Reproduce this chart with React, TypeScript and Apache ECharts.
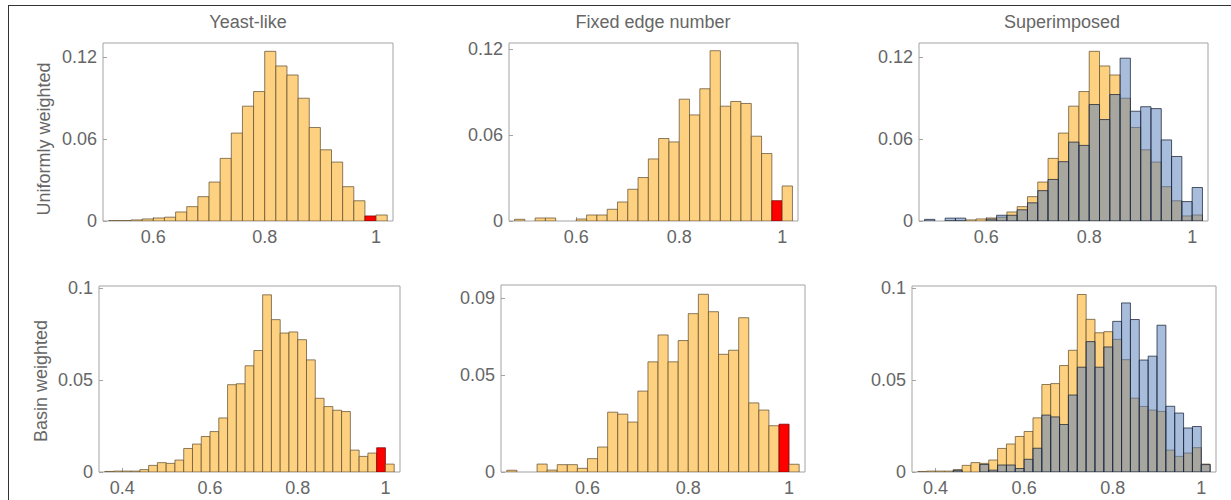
import React, { useEffect, useRef } from "react";
import * as echarts from "echarts";

// ---- Data (bin starts, width 0.02) ----
const BIN_WIDTH = 0.02;
const HIGHLIGHT_BIN = 0.98;
const BINS = [
  0.36, 0.38, 0.4, 0.42, 0.44, 0.46, 0.48, 0.5, 0.52, 0.54, 0.56, 0.58, 0.6, 0.62, 0.64, 0.66, 0.68,
  0.7, 0.72, 0.74, 0.76, 0.78, 0.8, 0.82, 0.84, 0.86, 0.88, 0.9, 0.92, 0.94, 0.96, 0.98, 1.0,
];

const yeastUniform = [
  null, null, null, null, null, null, null, null,
  0.0003, 0.0003, 0.0008, 0.0015, 0.0022, 0.0028, 0.0066, 0.0105, 0.0178, 0.0285, 0.0458, 0.0643,
  0.084, 0.0947, 0.1241, 0.1134, 0.1068, 0.0898, 0.0684, 0.0521, 0.0431, 0.0251, 0.0148, 0.0037, 0.0044,
];
const fixedUniform = [
  null, null, null, null, null, null,
  0.0012, 0, 0.0021, 0.0021, 0, 0, 0.0014, 0.0042, 0.0042, 0.0082, 0.0133, 0.0222, 0.0304, 0.0434,
  0.0577, 0.0553, 0.0852, 0.0742, 0.0925, 0.1191, 0.0803, 0.0836, 0.0822, 0.0593, 0.0472, 0.0142, 0.0245,
];
const yeastBasin = [
  0.0003, 0.0005, 0.0005, 0.0005, 0.0013, 0.0036, 0.0051, 0.0047, 0.0065, 0.0128, 0.0152, 0.0193,
  0.022, 0.0294, 0.0475, 0.048, 0.0578, 0.0661, 0.0964, 0.0829, 0.0756, 0.0762, 0.072, 0.061, 0.0401,
  0.0356, 0.0336, 0.0329, 0.0119, 0.0085, 0.0103, 0.0132, 0.0043,
];
const fixedBasin = [
  null, null, null, null,
  0.0009, 0, 0, 0.0041, 0.001, 0.0038, 0.0038, 0.0019, 0.0069, 0.0129, 0.0309, 0.0299, 0.0258, 0.0418,
  0.0569, 0.0708, 0.0569, 0.0679, 0.0818, 0.0918, 0.0828, 0.0608, 0.0629, 0.0797, 0.0357, 0.032,
  0.0239, 0.0247, 0.004,
];

const COLUMN_TITLES = ["Yeast-like", "Fixed edge number", "Superimposed"];
const ROW_TITLES = ["Uniformly weighted", "Basin weighted"];

const X_TICKS_A = [0.6, 0.8, 1];
const X_TICKS_B = [0.4, 0.6, 0.8, 1];
const Y_TICKS_UNIFORM = [0, 0.06, 0.12];
const Y_TICKS_BASIN = [0, 0.05, 0.1];
const Y_TICKS_FIXED_BASIN = [0, 0.05, 0.09];

// ---- Styles ----
const FONT = "'Liberation Sans', Arial, sans-serif";
const TEXT_COLOR = "#666666";
const FRAME_COLOR = "#a3a3a3";
const YELLOW = "#fdd17f";
const YELLOW_EDGE = "rgba(95,78,48,0.72)";
const RED = "#ff0000";
const RED_EDGE = "rgba(110,0,0,0.7)";
const BLUE = "rgba(91,128,187,0.53)";
const BLUE_EDGE = "rgba(25,35,55,0.75)";

function pairs(values: (number | null)[]) {
  const out: number[][] = [];
  BINS.forEach((b, i) => {
    const v = values[i];
    if (v != null && v > 0) out.push([b, v]);
  });
  return out;
}

type Layer = { data: (number | null)[]; fill: string; stroke: string; highlight: boolean };
type Panel = {
  grid: { left: number; top: number; width: number; height: number };
  xMin: number; xMax: number; yMax: number;
  xTicks: number[]; yTicks: number[];
  layers: Layer[];
};

const PANELS: Panel[] = [
  { grid: { left: 103, top: 43, width: 290, height: 178 }, xMin: 0.5096, xMax: 1.0304, yMax: 0.1302,
    xTicks: X_TICKS_A, yTicks: Y_TICKS_UNIFORM,
    layers: [{ data: yeastUniform, fill: YELLOW, stroke: YELLOW_EDGE, highlight: true }] },
  { grid: { left: 509, top: 43, width: 289, height: 178 }, xMin: 0.4692, xMax: 1.0308, yMax: 0.1245,
    xTicks: X_TICKS_A, yTicks: Y_TICKS_UNIFORM,
    layers: [{ data: fixedUniform, fill: YELLOW, stroke: YELLOW_EDGE, highlight: true }] },
  { grid: { left: 919, top: 43, width: 289, height: 178 }, xMin: 0.4692, xMax: 1.0308, yMax: 0.1302,
    xTicks: X_TICKS_A, yTicks: Y_TICKS_UNIFORM,
    layers: [
      { data: yeastUniform, fill: YELLOW, stroke: YELLOW_EDGE, highlight: false },
      { data: fixedUniform, fill: BLUE, stroke: BLUE_EDGE, highlight: false },
    ] },
  { grid: { left: 99, top: 286, width: 301, height: 186 }, xMin: 0.3468, xMax: 1.0332, yMax: 0.1012,
    xTicks: X_TICKS_B, yTicks: Y_TICKS_BASIN,
    layers: [{ data: yeastBasin, fill: YELLOW, stroke: YELLOW_EDGE, highlight: true }] },
  { grid: { left: 501, top: 285, width: 304, height: 187 }, xMin: 0.4284, xMax: 1.0316, yMax: 0.0966,
    xTicks: X_TICKS_A, yTicks: Y_TICKS_FIXED_BASIN,
    layers: [{ data: fixedBasin, fill: YELLOW, stroke: YELLOW_EDGE, highlight: true }] },
  { grid: { left: 912, top: 286, width: 304, height: 186 }, xMin: 0.3468, xMax: 1.0332, yMax: 0.101,
    xTicks: X_TICKS_B, yTicks: Y_TICKS_BASIN,
    layers: [
      { data: yeastBasin, fill: YELLOW, stroke: YELLOW_EDGE, highlight: false },
      { data: fixedBasin, fill: BLUE, stroke: BLUE_EDGE, highlight: false },
    ] },
];

const fmt = (v: number) => (v === 0 ? "0" : String(parseFloat(Number(v).toFixed(4))));

function buildOption() {
  const grids: any[] = [];
  const xAxes: any[] = [];
  const yAxes: any[] = [];
  const series: any[] = [];
  PANELS.forEach((p, i) => {
    grids.push({ ...p.grid, show: true, borderColor: FRAME_COLOR, borderWidth: 1, backgroundColor: "transparent" });
    xAxes.push({
      type: "value", gridIndex: i, min: p.xMin, max: p.xMax,
      axisLine: { show: false }, splitLine: { show: false },
      axisTick: { show: true, inside: true, length: 4, customValues: p.xTicks, lineStyle: { color: FRAME_COLOR } },
      axisLabel: { customValues: p.xTicks, formatter: fmt, color: TEXT_COLOR, fontSize: 18, fontFamily: FONT, margin: 7 },
    });
    yAxes.push({
      type: "value", gridIndex: i, min: 0, max: p.yMax,
      axisLine: { show: false }, splitLine: { show: false },
      axisTick: { show: true, inside: true, length: 4, customValues: p.yTicks, lineStyle: { color: FRAME_COLOR } },
      axisLabel: { customValues: p.yTicks, formatter: fmt, color: TEXT_COLOR, fontSize: 18, fontFamily: FONT, margin: 6 },
    });
    p.layers.forEach((layer) => {
      series.push({
        type: "custom", xAxisIndex: i, yAxisIndex: i, clip: true,
        data: pairs(layer.data),
        renderItem: (params: any, api: any) => {
          const x0 = api.value(0);
          const v = api.value(1);
          const a = api.coord([x0, 0]);
          const b = api.coord([x0 + BIN_WIDTH, v]);
          const isHi = layer.highlight && Math.abs(x0 - HIGHLIGHT_BIN) < 1e-9;
          return {
            type: "rect",
            shape: { x: a[0], y: b[1], width: b[0] - a[0], height: a[1] - b[1] },
            style: { fill: isHi ? RED : layer.fill, stroke: isHi ? RED_EDGE : layer.stroke, lineWidth: 1 },
          };
        },
      });
    });
  });

  const colCenters = [248, 653, 1062];
  const graphics: any[] = [
    { type: "line", shape: { x1: 8, y1: 5.5, x2: 1231, y2: 5.5 }, style: { stroke: "#333", lineWidth: 1 } },
    { type: "line", shape: { x1: 8.5, y1: 5, x2: 8.5, y2: 500 }, style: { stroke: "#333", lineWidth: 1 } },
  ];
  COLUMN_TITLES.forEach((t, i) => {
    graphics.push({
      type: "text", x: colCenters[i], y: 22,
      style: { text: t, fill: TEXT_COLOR, fontSize: 18, fontFamily: FONT, align: "center", verticalAlign: "middle" },
    });
  });
  const rowCenters = [[44, 139], [41, 381]];
  ROW_TITLES.forEach((t, i) => {
    graphics.push({
      type: "text", x: rowCenters[i][0], y: rowCenters[i][1], rotation: Math.PI / 2,
      style: { text: t, fill: TEXT_COLOR, fontSize: 18, fontFamily: FONT, align: "center", verticalAlign: "middle" },
    });
  });

  return {
    animation: false,
    backgroundColor: "#ffffff",
    grid: grids,
    xAxis: xAxes,
    yAxis: yAxes,
    series,
    graphic: graphics,
  };
}

export default function App() {
  const ref = useRef<HTMLDivElement>(null);
  useEffect(() => {
    if (!ref.current) return;
    const chart = echarts.init(ref.current, undefined, { renderer: "svg" });
    chart.setOption(buildOption());
    return () => chart.dispose();
  }, []);
  return (
    <div
      ref={ref}
      style={{ position: "absolute", left: 0, top: 0, width: 1231, height: 500 }}
    />
  );
}
